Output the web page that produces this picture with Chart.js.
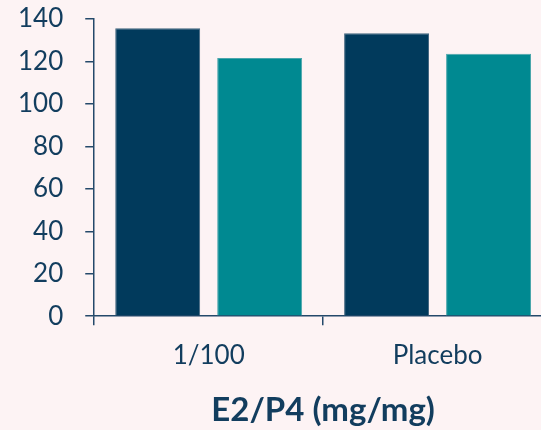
<!DOCTYPE html>
<html>
<head>
<meta charset="utf-8">
<script src="https://cdn.jsdelivr.net/npm/chart.js@4.4.1/dist/chart.umd.min.js"></script>
<style>
  html, body { margin: 0; padding: 0; background: #fdf3f4; overflow: hidden; }
  #wrap { width: 541px; height: 430px; overflow: hidden; }
  #wrap div { width: 552px; height: 430px; }
</style>
</head>
<body>
<div id="wrap"><div><canvas id="graphCanvas"></canvas></div></div>
<script>
// ข้อมูลกราฟ
const categories = ['1/100', 'Placebo'];
const seriesDark = [135.6, 133.3];
const seriesTeal = [121.6, 123.6];
const yTicks = [0, 20, 40, 60, 80, 100, 120, 140];

const textColor = '#123d5e';
const axisColor = '#24496a';

let ctx = document.getElementById('graphCanvas').getContext('2d');
let chart = new Chart(ctx, {
    type: 'bar',
    data: {
        labels: categories,
        datasets: [{
            data: seriesDark,
            backgroundColor: '#013a5c',
            borderColor: '#41657f',
            borderWidth: 1,
            categoryPercentage: 0.891,
            barPercentage: 0.833
        }, {
            data: seriesTeal,
            backgroundColor: '#008991',
            borderColor: '#4ba6ac',
            borderWidth: 1,
            categoryPercentage: 0.891,
            barPercentage: 0.833
        }]
    },
    options: {
        responsive: true,
        maintainAspectRatio: false,
        animation: false,
        layout: { padding: { left: -4, top: 0, right: 0, bottom: 0 } },
        plugins: { legend: { display: false }, tooltip: { enabled: false } },
        scales: {
            x: {
                grid: { drawOnChartArea: false, drawTicks: true, tickLength: 9, color: axisColor, lineWidth: 1.5 },
                border: { color: axisColor, width: 1.5 },
                ticks: { color: textColor, font: { family: 'Lato', size: 26 }, padding: 15 },
                title: {
                    display: true,
                    text: 'E2/P4 (mg/mg)',
                    color: textColor,
                    font: { family: 'Lato', size: 33, weight: 'bold' },
                    padding: { top: 4, bottom: 0 }
                }
            },
            y: {
                min: 0,
                max: 140,
                afterBuildTicks: function(axis) {
                    axis.ticks = yTicks.map(v => ({ value: v }));
                },
                // ไม่ให้ padding ของ label ไปดันขอบบน/ล่างของกราฟ
                afterFit: function(scale) {
                    scale.paddingTop = 19;
                    scale.paddingBottom = 0;
                },
                grid: { drawOnChartArea: false, drawTicks: true, tickLength: 9, color: axisColor, lineWidth: 1.5 },
                border: { color: axisColor, width: 1.5 },
                ticks: { color: textColor, font: { family: 'Lato', size: 26 }, padding: 22 }
            }
        }
    }
});
</script>
</body>
</html>
